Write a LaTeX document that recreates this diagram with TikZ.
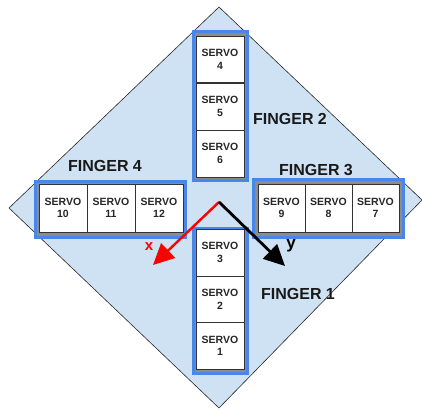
\documentclass[tikz,border=0pt]{standalone}
\usepackage{fontspec}
\setmainfont{Liberation Sans}
\usetikzlibrary{arrows.meta}
\definecolor{palmblue}{HTML}{CFE2F3}
\definecolor{fingerblue}{HTML}{4A86E8}
\tikzset{
  px/.style={x=1pt,y=-1pt},
  palm/.style={draw=black!85,line width=0.6pt,fill=palmblue},
  fingerbox/.style={draw=fingerblue,line width=3pt,fill=black!45,inner sep=0pt},
  servo/.style={draw=black!80,line width=0.7pt,fill=white,inner sep=0pt,
    font=\fontsize{10.5}{12.5}\selectfont\bfseries,align=center,text=black!85},
  vcell/.style={servo,minimum width=48pt,minimum height=46.7pt},
  hcell/.style={servo,minimum width=47.5pt,minimum height=48pt},
  fingerlabel/.style={font=\fontsize{16}{19}\selectfont\bfseries,text=black!90},
  axis/.style={line width=2.8pt,-{Triangle[length=21pt,width=20pt]}},
}
\begin{document}
\begin{tikzpicture}[px]
\useasboundingbox (0,0) rectangle (422,409);

% palm plate
\draw[palm] (219,7) -- (422,200) -- (219,408) -- (9,208) -- cycle;

% finger frames
\node[fingerbox,minimum width=54pt,minimum height=148pt] (f2) at (220,106) {};
\node[fingerbox,minimum width=54pt,minimum height=145pt] (f1) at (220,300.5) {};
\node[fingerbox,minimum width=150pt,minimum height=56pt] (f4) at (110,209) {};
\node[fingerbox,minimum width=150pt,minimum height=58pt] (f3) at (328,208) {};

% finger 2 servos
\node[vcell] (s4) at (220,59.5) {SERVO\\4};
\node[vcell] (s5) at (220,106.5) {SERVO\\5};
\node[vcell] (s6) at (220,153.5) {SERVO\\6};

% finger 1 servos
\node[vcell] (s3) at (220,252.5) {SERVO\\3};
\node[vcell] (s2) at (220,299.2) {SERVO\\2};
\node[vcell] (s1) at (220,345.8) {SERVO\\1};

% finger 4 servos
\node[hcell,minimum width=48pt] (s10) at (63,208) {SERVO\\10};
\node[hcell,minimum width=48pt] (s11) at (111,208) {SERVO\\11};
\node[hcell,minimum width=48pt] (s12) at (159,208) {SERVO\\12};

% finger 3 servos
\node[hcell,minimum width=47pt] (s9) at (281.5,208) {SERVO\\9};
\node[hcell,minimum width=47pt] (s8) at (328.5,208) {SERVO\\8};
\node[hcell,minimum width=47pt] (s7) at (375.5,208) {SERVO\\7};

% finger labels
\node[fingerlabel] (l2) at (290,119) {FINGER 2};
\node[fingerlabel] (l4) at (105,166) {FINGER 4};
\node[fingerlabel] (l3) at (316,170) {FINGER 3};
\node[fingerlabel] (l1) at (298,294) {FINGER 1};

% palm frame axes
\coordinate (o) at (219,202);
\coordinate (xtip) at (153,265);
\coordinate (ytip) at (285,266);
\draw[axis,red,line width=2.4pt] (o) -- (xtip);
\draw[axis,black] (o) -- (ytip);
\node[font=\fontsize{15}{17}\selectfont\bfseries,text=red] (xl) at (149,247) {x};
\node[font=\fontsize{17}{19}\selectfont\bfseries] (yl) at (291,246) {y};
\end{tikzpicture}
\end{document}
